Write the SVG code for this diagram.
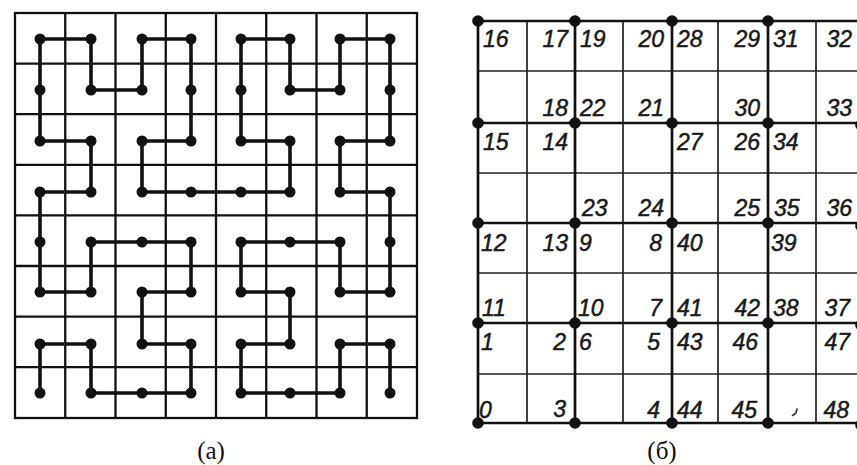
<svg xmlns="http://www.w3.org/2000/svg" width="857" height="465" viewBox="0 0 857 465">
<style>
.bg{fill:#fff}
.ga{stroke:#111;stroke-width:2.3;fill:none}
.curve{stroke:#111;stroke-width:3.6;fill:none;stroke-linejoin:miter;stroke-linecap:round}
.da{fill:#111}
.thin{stroke:#222;stroke-width:1.7;fill:none}
.bold{stroke:#111;stroke-width:2.7;fill:none}
.db{fill:#111}
.lbl{font-family:"Liberation Sans Narrow","Liberation Sans",Arial,sans-serif;font-style:italic;font-size:23px;fill:#1a1a1a;stroke:#1a1a1a;stroke-width:0.5}
.e{text-anchor:end}
.cap{font-family:"Liberation Serif","Times New Roman",serif;font-size:25px;fill:#111;text-anchor:middle}
</style>
<defs>
<circle id="dotA" r="5.5" class="da"/>
<circle id="dotB" r="5.8" class="db"/>
</defs>
<rect class="bg" width="857" height="465"/>

<!-- (a) grid -->
<g id="grid-a">
<rect class="ga" x="15" y="13" width="402" height="405"/>
<path class="ga" d="M65.25 13V418M115.5 13V418M165.75 13V418M216 13V418M266.25 13V418M316.5 13V418M366.75 13V418
M15 63.6H417M15 114.2H417M15 164.8H417M15 215.4H417M15 266H417M15 316.6H417M15 367.2H417"/>
</g>

<!-- (a) curve -->
<g id="connectors-a">
<polyline class="curve" points="40,393 40,344 91,344 91,393 142,393 191,393 191,344 142,344 142,292 191,292 191,242 142,242 91,242 91,292 40,292 40,242 40,192 91,192 91,141 40,141 40,90 40,39 91,39 91,90 142,90 142,39 191,39 191,90 191,141 142,141 142,192 191,192 241,192 290,192 290,141 241,141 241,90 241,39 290,39 290,90 340,90 340,39 390,39 390,90 390,141 340,141 340,192 390,192 390,242 390,292 340,292 340,242 290,242 241,242 241,292 290,292 290,344 241,344 241,393 290,393 340,393 340,344 390,344 390,393"/>
</g>

<!-- (a) nodes -->
<g id="nodes-a">
<g id="a-r0"><use href="#dotA" x="40" y="39"/><use href="#dotA" x="91" y="39"/><use href="#dotA" x="142" y="39"/><use href="#dotA" x="191" y="39"/><use href="#dotA" x="241" y="39"/><use href="#dotA" x="290" y="39"/><use href="#dotA" x="340" y="39"/><use href="#dotA" x="390" y="39"/></g>
<g id="a-r1"><use href="#dotA" x="40" y="90"/><use href="#dotA" x="91" y="90"/><use href="#dotA" x="142" y="90"/><use href="#dotA" x="191" y="90"/><use href="#dotA" x="241" y="90"/><use href="#dotA" x="290" y="90"/><use href="#dotA" x="340" y="90"/><use href="#dotA" x="390" y="90"/></g>
<g id="a-r2"><use href="#dotA" x="40" y="141"/><use href="#dotA" x="91" y="141"/><use href="#dotA" x="142" y="141"/><use href="#dotA" x="191" y="141"/><use href="#dotA" x="241" y="141"/><use href="#dotA" x="290" y="141"/><use href="#dotA" x="340" y="141"/><use href="#dotA" x="390" y="141"/></g>
<g id="a-r3"><use href="#dotA" x="40" y="192"/><use href="#dotA" x="91" y="192"/><use href="#dotA" x="142" y="192"/><use href="#dotA" x="191" y="192"/><use href="#dotA" x="241" y="192"/><use href="#dotA" x="290" y="192"/><use href="#dotA" x="340" y="192"/><use href="#dotA" x="390" y="192"/></g>
<g id="a-r4"><use href="#dotA" x="40" y="242"/><use href="#dotA" x="91" y="242"/><use href="#dotA" x="142" y="242"/><use href="#dotA" x="191" y="242"/><use href="#dotA" x="241" y="242"/><use href="#dotA" x="290" y="242"/><use href="#dotA" x="340" y="242"/><use href="#dotA" x="390" y="242"/></g>
<g id="a-r5"><use href="#dotA" x="40" y="292"/><use href="#dotA" x="91" y="292"/><use href="#dotA" x="142" y="292"/><use href="#dotA" x="191" y="292"/><use href="#dotA" x="241" y="292"/><use href="#dotA" x="290" y="292"/><use href="#dotA" x="340" y="292"/><use href="#dotA" x="390" y="292"/></g>
<g id="a-r6"><use href="#dotA" x="40" y="344"/><use href="#dotA" x="91" y="344"/><use href="#dotA" x="142" y="344"/><use href="#dotA" x="191" y="344"/><use href="#dotA" x="241" y="344"/><use href="#dotA" x="290" y="344"/><use href="#dotA" x="340" y="344"/><use href="#dotA" x="390" y="344"/></g>
<g id="a-r7"><use href="#dotA" x="40" y="393"/><use href="#dotA" x="91" y="393"/><use href="#dotA" x="142" y="393"/><use href="#dotA" x="191" y="393"/><use href="#dotA" x="241" y="393"/><use href="#dotA" x="290" y="393"/><use href="#dotA" x="340" y="393"/><use href="#dotA" x="390" y="393"/></g>
</g>

<!-- (b) grid -->
<g id="grid-b">
<path class="thin" d="M527 21V423M623 21V423M718 21V423M816 21V423
M478 71H861M478 173H861M478 273H861M478 374H861"/>
<path class="bold" d="M478 21V423M575 21V423M672 21V423M768 21V423M861 21V423
M478 21H861M478 123H861M478 223H861M478 323H861M478 423H861"/>
</g>

<!-- (b) nodes -->
<g id="nodes-b">
<use href="#dotB" x="478" y="21"/><use href="#dotB" x="575" y="21"/><use href="#dotB" x="672" y="21"/><use href="#dotB" x="768" y="21"/>
<use href="#dotB" x="478" y="123"/><use href="#dotB" x="575" y="123"/><use href="#dotB" x="672" y="123"/><use href="#dotB" x="768" y="123"/><use href="#dotB" x="861" y="125"/>
<use href="#dotB" x="478" y="223"/><use href="#dotB" x="575" y="223"/><use href="#dotB" x="672" y="223"/><use href="#dotB" x="768" y="223"/><use href="#dotB" x="861" y="226"/>
<use href="#dotB" x="478" y="323"/><use href="#dotB" x="575" y="323"/><use href="#dotB" x="672" y="323"/><use href="#dotB" x="768" y="323"/><use href="#dotB" x="861" y="325"/>
<use href="#dotB" x="478" y="423"/><use href="#dotB" x="575" y="423"/><use href="#dotB" x="672" y="423"/><use href="#dotB" x="768" y="423"/><use href="#dotB" x="861" y="425"/>
</g>

<!-- (b) labels -->
<g id="labels-b" class="lbl">
<text x="483" y="47">16</text>
<text class="e" x="568" y="47">17</text>
<text x="580" y="47">19</text>
<text class="e" x="664" y="47">20</text>
<text x="677" y="47">28</text>
<text class="e" x="760" y="47">29</text>
<text x="773" y="47">31</text>
<text class="e" x="852" y="47">32</text>

<text class="e" x="568" y="116">18</text>
<text x="580" y="116">22</text>
<text class="e" x="664" y="116">21</text>
<text class="e" x="760" y="116">30</text>
<text class="e" x="852" y="116">33</text>

<text x="483" y="150">15</text>
<text class="e" x="568" y="150">14</text>
<text x="677" y="150">27</text>
<text class="e" x="760" y="150">26</text>
<text x="773" y="150">34</text>

<text x="582" y="216">23</text>
<text class="e" x="664" y="216">24</text>
<text class="e" x="760" y="216">25</text>
<text x="774" y="216">35</text>
<text class="e" x="852" y="216">36</text>

<text x="481" y="251">12</text>
<text class="e" x="568" y="251">13</text>
<text x="579" y="251">9</text>
<text class="e" x="662" y="251">8</text>
<text x="677" y="251">40</text>
<text x="771" y="251">39</text>

<text x="482" y="316">11</text>
<text x="578" y="316">10</text>
<text class="e" x="662" y="316">7</text>
<text x="677" y="316">41</text>
<text class="e" x="760" y="316">42</text>
<text x="773" y="316">38</text>
<text class="e" x="850" y="316">37</text>

<text x="481" y="350">1</text>
<text class="e" x="566" y="350">2</text>
<text x="579" y="350">6</text>
<text class="e" x="660" y="350">5</text>
<text x="677" y="350">43</text>
<text class="e" x="758" y="350">46</text>
<text class="e" x="850" y="350">47</text>

<text x="479" y="418">0</text>
<text class="e" x="566" y="417">3</text>
<text class="e" x="660" y="418">4</text>
<text x="677" y="418">44</text>
<text class="e" x="757" y="418">45</text>
<text class="e" x="849" y="418">48</text>
</g>
<path d="M792.5 415.5 L796 413 L797 409" stroke="#333" stroke-width="1.6" fill="none" stroke-linecap="round"/>

<!-- captions -->
<text class="cap" x="211" y="459">(а)</text>
<text class="cap" x="662" y="459">(б)</text>
</svg>
